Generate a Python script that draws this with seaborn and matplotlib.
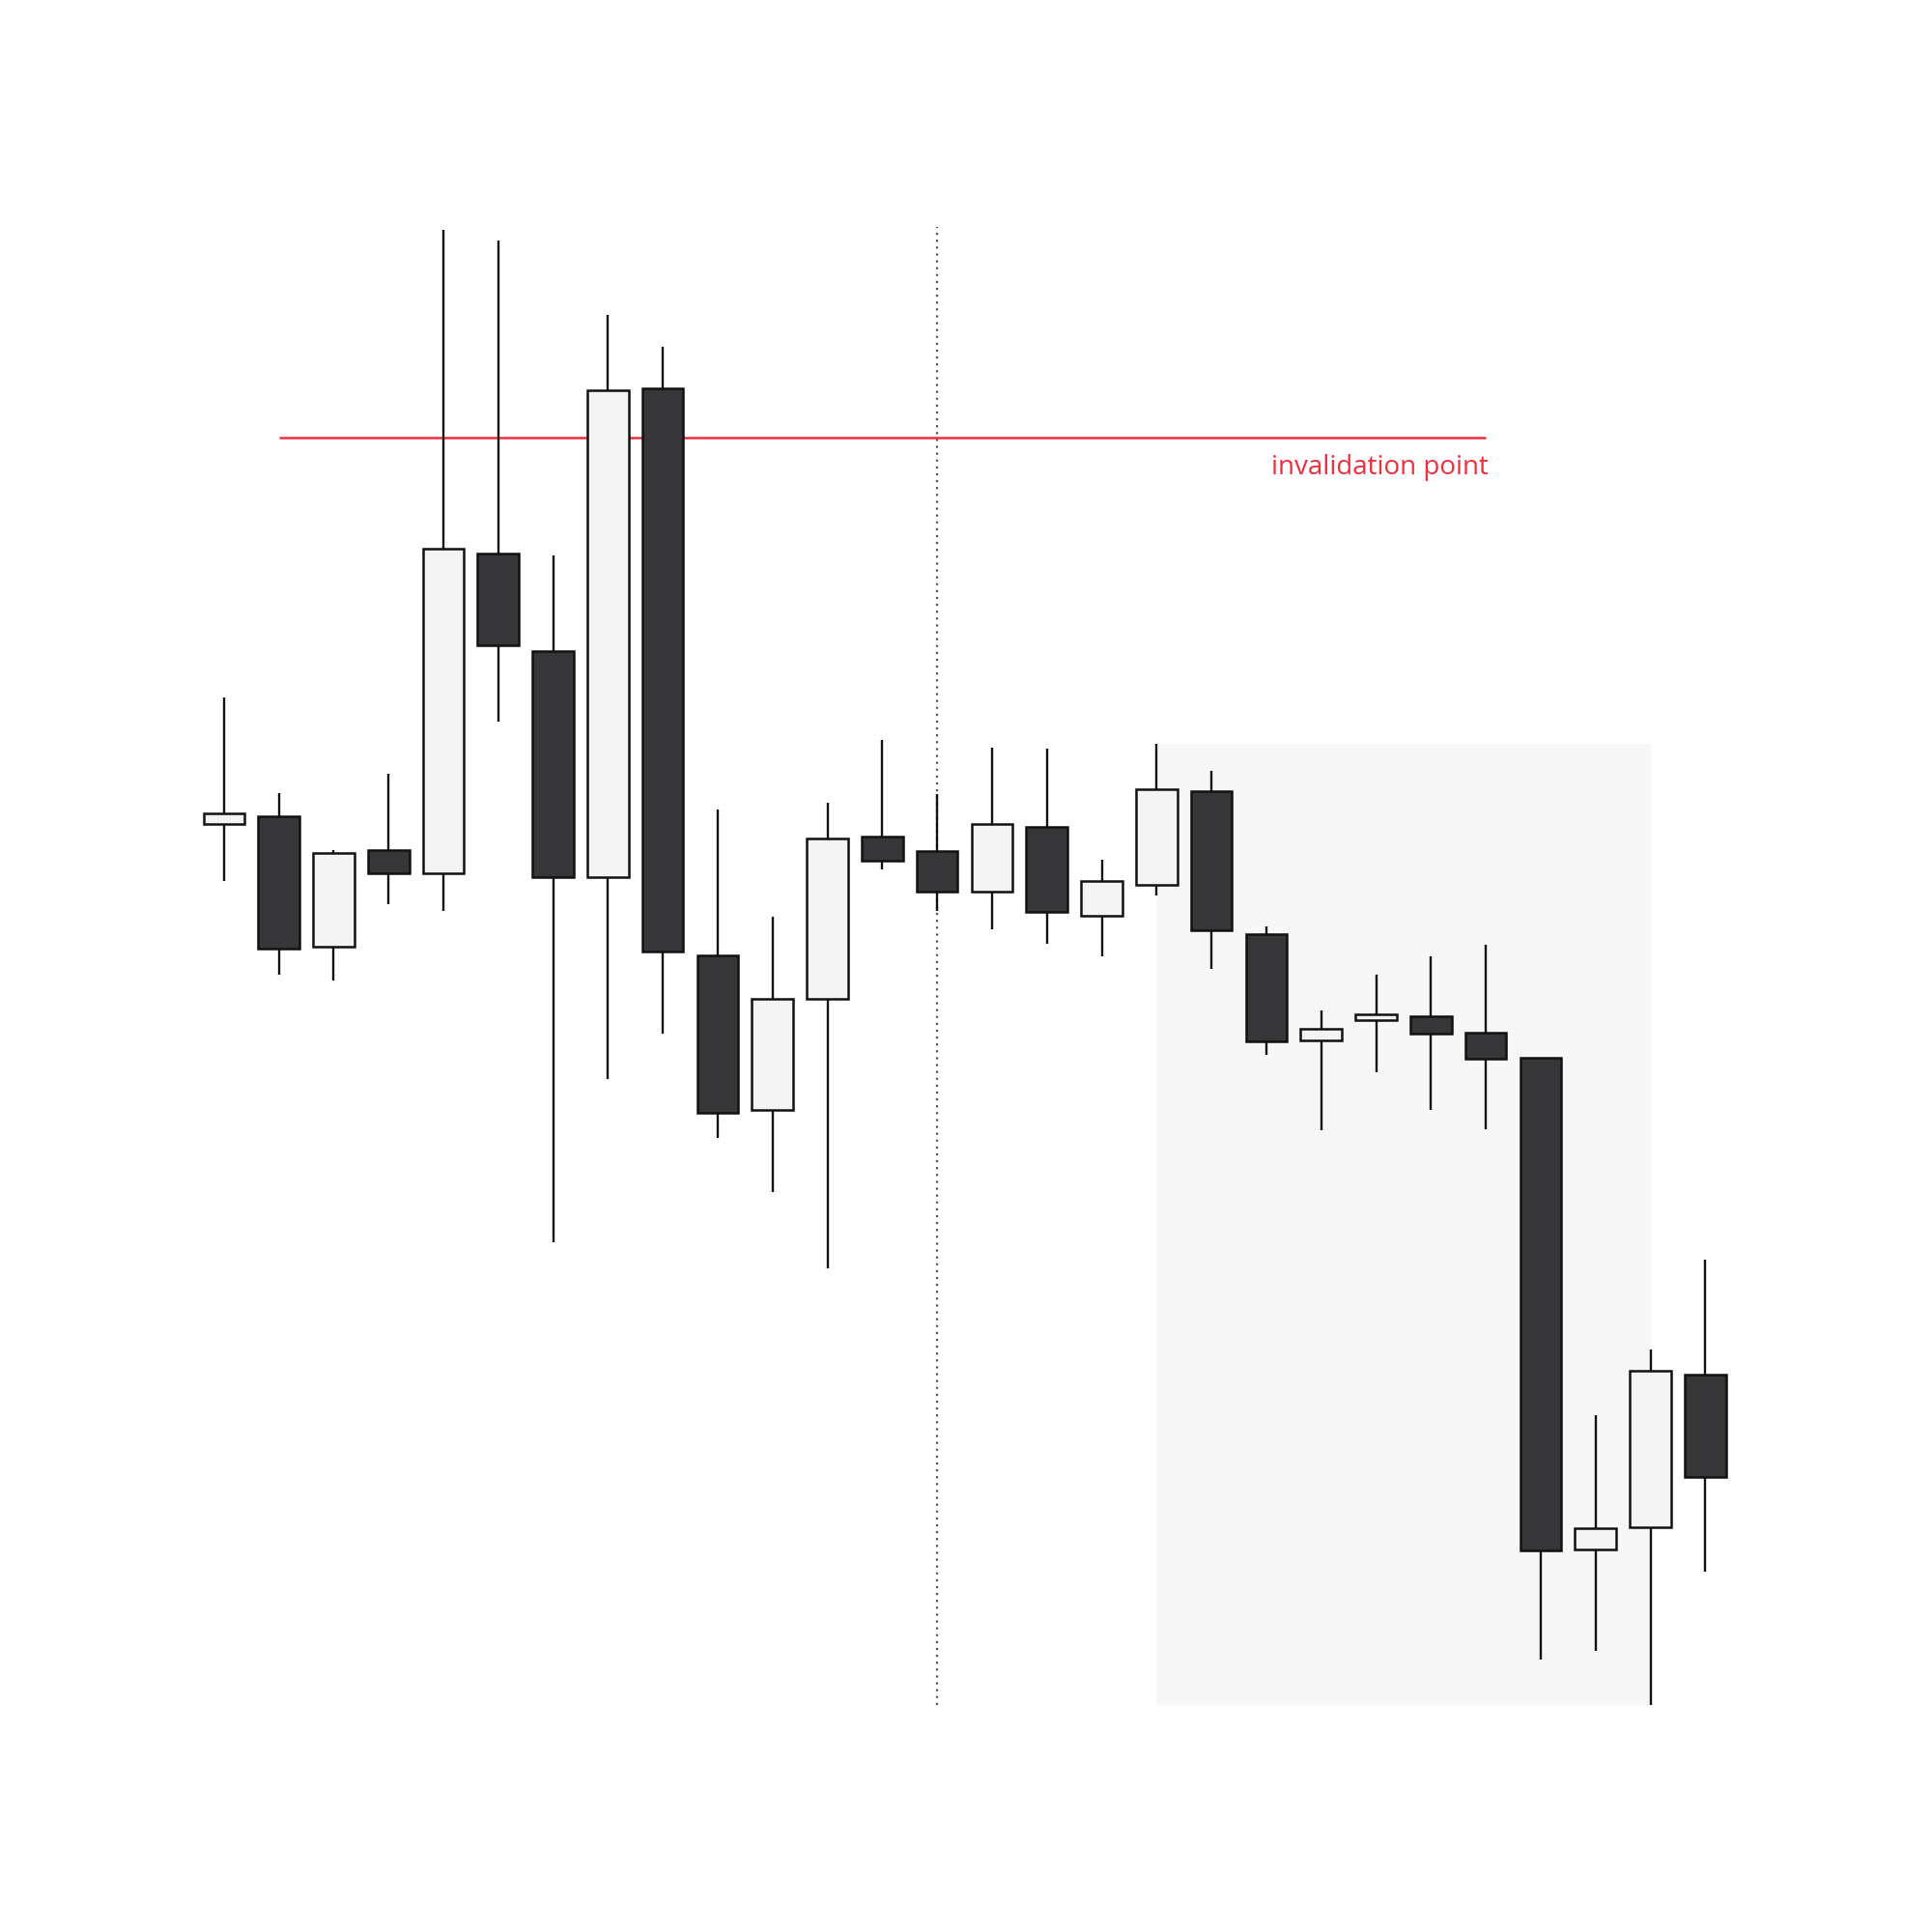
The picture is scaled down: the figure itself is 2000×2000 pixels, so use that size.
import matplotlib
matplotlib.use("Agg")
import matplotlib.pyplot as plt
import numpy as np
import seaborn as sns

# candle data (arbitrary price units)
opens = [93.2, 93.8, 83.3, 91.1, 89.2, 115.1, 107.2, 88.9, 128.5, 82.6,
         70.0, 79.0, 92.2, 91.0, 87.7, 93.0, 85.8, 88.3, 95.9, 84.3,
         75.7, 77.3, 77.6, 76.3, 74.3, 34.4, 36.2, 48.6]
highs = [103.5, 95.7, 91.1, 97.3, 141.4, 140.5, 115.0, 134.5, 131.9, 94.4,
         85.7, 94.9, 100.0, 95.6, 99.4, 99.3, 90.3, 99.7, 97.5, 84.9,
         78.1, 81.0, 82.5, 83.4, 74.3, 45.3, 50.6, 57.9]
lows = [88.6, 81.0, 80.5, 86.7, 86.2, 101.5, 59.3, 72.5, 76.2, 67.8,
        63.4, 57.2, 89.5, 86.2, 84.7, 83.5, 82.5, 87.4, 81.5, 74.5,
        68.4, 73.1, 70.0, 68.5, 25.5, 26.2, 21.8, 32.6]
closes = [94.1, 83.1, 90.9, 89.2, 115.5, 107.7, 88.9, 128.4, 82.9, 69.8,
          79.0, 92.0, 90.2, 87.7, 93.2, 86.1, 88.6, 96.0, 84.6, 75.6,
          76.6, 77.8, 76.2, 74.2, 34.3, 36.1, 48.9, 40.3]

invalidation_level = 124.5
invalidation_start, invalidation_end = 1, 23
marker_index = 13
zone_start, zone_end = 17, 26

sns.set_theme(style="white")

o = np.array(opens)
h = np.array(highs)
l = np.array(lows)
c = np.array(closes)
x = np.arange(len(o))
up = c >= o

fig = plt.figure(figsize=(10, 10), dpi=200)
ax = fig.add_axes([0.1, 0.1175, 0.8, 0.765])

ylo, yhi = l.min(), h.max() + 0.2

# shaded zone
ax.fill_between([zone_start, zone_end], ylo, h[zone_start],
                color="#f7f7f7", linewidth=0, zorder=0)

# dotted marker line
ax.axvline(marker_index, color="#555555", lw=0.8, linestyle=(0, (1, 2.2)), zorder=1)

# invalidation line
ax.hlines(invalidation_level, invalidation_start, invalidation_end,
          color="#ee2f3e", lw=0.9, zorder=2)
ax.annotate("invalidation point", xy=(invalidation_end, invalidation_level),
            xytext=(1, -6), textcoords="offset points", ha="right", va="top",
            color="#ee2f3e", fontsize=10, family=["Open Sans", "DejaVu Sans"])

# wicks and bodies
ax.vlines(x, l, h, color="#111111", lw=0.85, zorder=3)
colors = np.where(up, "#f4f4f4", "#363638")
ax.bar(x, np.abs(c - o), bottom=np.minimum(o, c), width=0.75,
       color=colors, edgecolor="#111111", linewidth=0.9, zorder=4)

ax.set_xlim(-0.56, 27.61)
ax.set_ylim(ylo, yhi)
ax.axis("off")

fig.savefig("out.png", dpi=200)
